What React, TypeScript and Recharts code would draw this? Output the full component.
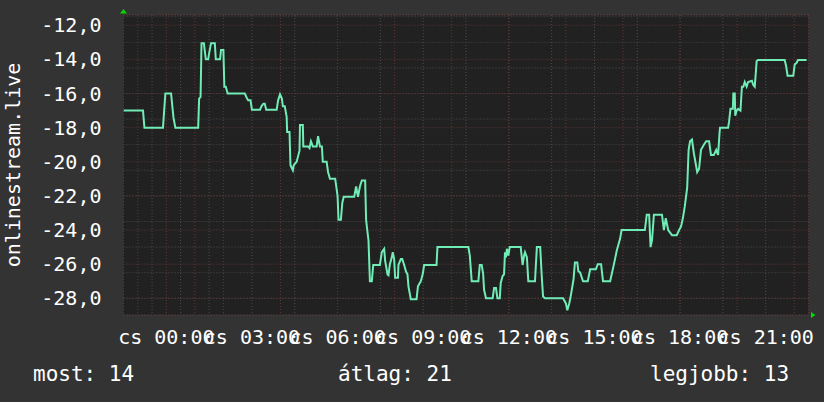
import React from "react";
import {
  LineChart,
  Line,
  XAxis,
  YAxis,
  CartesianGrid,
  ReferenceDot,
} from "recharts";

// minutes from 00:00 (negative = previous evening) and the measured value
const minutes = [
  -90, -49, -46, -7, -2, 10, 15, 19, 67, 69, 72, 74, 79, 80, 83, 88, 90, 94,
  102, 104, 113, 115, 120, 122, 125, 129, 165, 169, 172, 177, 180, 197, 200,
  204, 207, 210, 232, 235, 239, 243, 245, 249, 253, 254, 259, 261, 266, 268,
  274, 280, 281, 287, 288, 298, 301, 304, 308, 316, 319, 323, 327, 329, 337,
  340, 344, 355, 357, 360, 362, 367, 370, 373, 395, 399, 403, 407, 411, 418,
  420, 422, 425, 428, 432, 435, 449, 453, 458, 460, 465, 467, 470, 474, 476,
  479, 481, 487, 488, 493, 496, 500, 504, 507, 509, 514, 526, 529, 532, 535,
  539, 542, 568, 570, 635, 638, 642, 656, 659, 663, 666, 668, 672, 686, 689,
  693, 696, 701, 703, 707, 710, 712, 714, 716, 719, 722, 745, 749, 752, 754,
  758, 761, 775, 779, 786, 789, 792, 796, 834, 840, 843, 847, 850, 856, 859,
  864, 866, 870, 876, 886, 891, 903, 907, 914, 918, 933, 937, 941, 947, 954,
  957, 1006, 1010, 1015, 1018, 1021, 1025, 1042, 1046, 1050, 1055, 1063, 1073,
  1078, 1082, 1086, 1090, 1095, 1098, 1101, 1105, 1109, 1116, 1120, 1124,
  1130, 1135, 1141, 1145, 1151, 1156, 1160, 1163, 1164, 1181, 1183, 1186,
  1191, 1192, 1195, 1196, 1199, 1202, 1207, 1210, 1213, 1216, 1220, 1223,
  1231, 1234, 1237, 1240, 1241, 1244, 1300, 1303, 1306, 1318, 1321, 1325,
  1328, 1346,
];
const values = [
  -17.0, -17.0, -18.0, -18.0, -16.0, -16.0, -17.4, -18.0, -18.0, -16.3, -16.2,
  -13.05, -13.05, -13.3, -14.0, -14.0, -13.65, -13.05, -13.05, -14.0, -14.0,
  -13.45, -13.45, -15.6, -15.6, -16.0, -16.0, -16.25, -16.4, -16.4, -16.95,
  -16.95, -16.75, -16.6, -16.6, -16.95, -16.95, -16.4, -16.05, -16.3, -16.75,
  -16.75, -17.37, -18.25, -18.25, -20.2, -20.5, -20.2, -20.0, -19.35, -17.85,
  -17.85, -19.1, -19.1, -19.2, -18.8, -19.1, -19.1, -18.5, -19.1, -19.1, -20.0,
  -20.0, -20.6, -21.0, -21.0, -21.4, -22.0, -23.4, -23.4, -22.4, -22.05,
  -22.05, -21.45, -22.05, -21.45, -21.1, -21.1, -23.4, -23.9, -24.6, -27.0,
  -27.0, -26.05, -26.05, -25.3, -25.1, -25.8, -26.6, -26.65, -26.0, -25.6,
  -25.3, -25.7, -26.8, -26.8, -26.05, -25.7, -25.7, -26.05, -26.45, -26.6,
  -27.3, -28.05, -28.05, -27.3, -27.15, -27.0, -26.6, -26.05, -26.05, -25.0,
  -25.0, -25.5, -27.0, -27.0, -26.05, -26.05, -26.55, -27.5, -28.0, -28.0,
  -27.4, -27.4, -28.0, -28.0, -27.1, -26.7, -26.6, -25.3, -25.6, -25.1, -25.5,
  -25.0, -25.0, -26.05, -25.5, -25.3, -25.6, -27.0, -27.0, -25.0, -25.0,
  -26.6, -27.9, -28.0, -28.0, -28.3, -28.7, -28.3, -27.9, -26.9, -25.9, -25.9,
  -26.4, -26.5, -27.0, -27.0, -26.3, -26.3, -26.0, -26.0, -27.0, -27.0, -26.5,
  -26.0, -25.2, -24.5, -24.0, -24.0, -23.1, -23.1, -25.0, -24.6, -23.1, -23.1,
  -24.0, -23.3, -24.0, -24.3, -24.3, -24.0, -23.8, -23.3, -22.6, -21.5, -19.3,
  -18.8, -18.7, -19.5, -20.6, -20.4, -19.3, -19.0, -18.8, -18.8, -19.6, -19.6,
  -19.3, -19.6, -18.3, -18.0, -18.0, -17.65, -16.9, -16.9, -16.0, -16.0,
  -17.3, -17.0, -16.9, -17.0, -15.6, -15.6, -15.33, -15.6, -15.33, -15.25,
  -15.5, -15.6, -14.5, -14.1, -14.04, -14.04, -14.4, -14.96, -14.96, -14.3,
  -14.2, -14.04, -14.04,
];

const xTicks = [0, 180, 360, 540, 720, 900, 1080, 1260];
const xTickLabels = [
  "cs 00:00",
  "cs 03:00",
  "cs 06:00",
  "cs 09:00",
  "cs 12:00",
  "cs 15:00",
  "cs 18:00",
  "cs 21:00",
];
const yTicks = [-28, -26, -24, -22, -20, -18, -16, -14, -12];

const statLabels = ["most", "átlag", "legjobb"];
const statValues = [14, 21, 13];

const xDomain: [number, number] = [-90, 1350];
const yDomain: [number, number] = [-28.98, -11.4];

const data = minutes.map((m, i) => ({ m, v: values[i] }));

const range = (from: number, to: number, step: number) => {
  const out: number[] = [];
  for (let v = from; v <= to + 1e-9; v += step) out.push(v);
  return out;
};
const minorX = range(-90, 1350, 30);
const majorX = range(-60, 1320, 60);
const minorY = range(-28.5, -11.5, 0.5);

const FONT = "DejaVu Sans Mono";
const MINOR = "#4c4c4c";
const MAJOR = "#663636";
const statX = [33, 338, 650];

const noLabel = () => <g />;

const upArrow = (p: any) => (
  <polygon
    points={`${p.cx - 3.5},${p.cy - 1.5} ${p.cx + 3.5},${p.cy - 1.5} ${p.cx},${p.cy - 6}`}
    fill="#00dd00"
  />
);
const rightArrow = (p: any) => (
  <polygon
    points={`${p.cx + 2.5},${p.cy - 3} ${p.cx + 2.5},${p.cy + 3} ${p.cx + 7},${p.cy}`}
    fill="#00dd00"
  />
);

export default function App() {
  return (
    <div
      style={{
        position: "absolute",
        left: 0,
        top: 0,
        width: 824,
        height: 402,
        background: "#333333",
      }}
    >
      <LineChart
        width={824}
        height={402}
        data={data}
        margin={{ top: 15, right: 15.5, bottom: 57, left: 0 }}
      >
        {/* hidden axes that only feed the minor / major grids */}
        <XAxis xAxisId="minor" dataKey="m" type="number" domain={xDomain} ticks={minorX} hide allowDataOverflow />
        <XAxis xAxisId="major" dataKey="m" type="number" domain={xDomain} ticks={majorX} hide allowDataOverflow />
        <YAxis yAxisId="minor" type="number" domain={yDomain} ticks={minorY} hide allowDataOverflow />
        <CartesianGrid
          xAxisId="minor"
          yAxisId="minor"
          fill="#212121"
          stroke={MINOR}
          strokeDasharray="1 2"
        />
        <CartesianGrid
          xAxisId="major"
          yAxisId={0}
          stroke={MAJOR}
          strokeDasharray="1 2"
        />
        {/* little tick marks on the top and bottom frame */}
        <XAxis xAxisId="topMinor" orientation="top" height={0} dataKey="m" type="number" domain={xDomain}
          ticks={minorX} interval={0} axisLine={false} tickSize={3} tick={noLabel} tickLine={{ stroke: MINOR }} />
        <XAxis xAxisId="topMajor" orientation="top" height={0} dataKey="m" type="number" domain={xDomain}
          ticks={majorX} interval={0} axisLine={false} tickSize={3} tick={noLabel} tickLine={{ stroke: "#8a4040" }} />
        <XAxis xAxisId="botMinor" height={0} dataKey="m" type="number" domain={xDomain}
          ticks={minorX} interval={0} axisLine={false} tickSize={3} tick={noLabel} tickLine={{ stroke: MINOR }} />
        <XAxis xAxisId="botMajor" height={0} dataKey="m" type="number" domain={xDomain}
          ticks={majorX} interval={0} axisLine={false} tickSize={3} tick={noLabel} tickLine={{ stroke: "#8a4040" }} />
        <XAxis
          dataKey="m"
          type="number"
          domain={xDomain}
          ticks={xTicks}
          interval={0}
          height={30}
          allowDataOverflow
          axisLine={false}
          tickLine={false}
          tickMargin={9}
          tickFormatter={(m: number) => xTickLabels[xTicks.indexOf(m)]}
          tick={{ fill: "#ffffff", fontSize: 20, fontFamily: FONT }}
        />
        <YAxis
          type="number"
          domain={yDomain}
          ticks={yTicks}
          width={123.5}
          allowDataOverflow
          axisLine={false}
          tickLine={false}
          tickMargin={16}
          tickFormatter={(v: number) => v.toFixed(1).replace(".", ",")}
          tick={{ fill: "#ffffff", fontSize: 20, fontFamily: FONT }}
        />
        <Line
          type="linear"
          dataKey="v"
          stroke="#70ecb6"
          strokeWidth={2}
          dot={false}
          isAnimationActive={false}
        />
        <ReferenceDot x={xDomain[0]} y={yDomain[1]} r={0} ifOverflow="visible" shape={upArrow} />
        <ReferenceDot x={xDomain[1]} y={yDomain[0]} r={0} ifOverflow="visible" shape={rightArrow} />
      </LineChart>
      <svg
        width={824}
        height={402}
        style={{ position: "absolute", left: 0, top: 0, pointerEvents: "none" }}
      >
        <text
          transform="translate(20,165) rotate(-90)"
          textAnchor="middle"
          fill="#ffffff"
          fontSize={20}
          fontFamily={FONT}
        >
          onlinestream.live
        </text>
        {statLabels.map((l, i) => (
          <text key={l} x={statX[i]} y={381} fill="#ffffff" fontSize={21} fontFamily={FONT}>
            {`${l}: ${statValues[i]}`}
          </text>
        ))}
      </svg>
    </div>
  );
}
